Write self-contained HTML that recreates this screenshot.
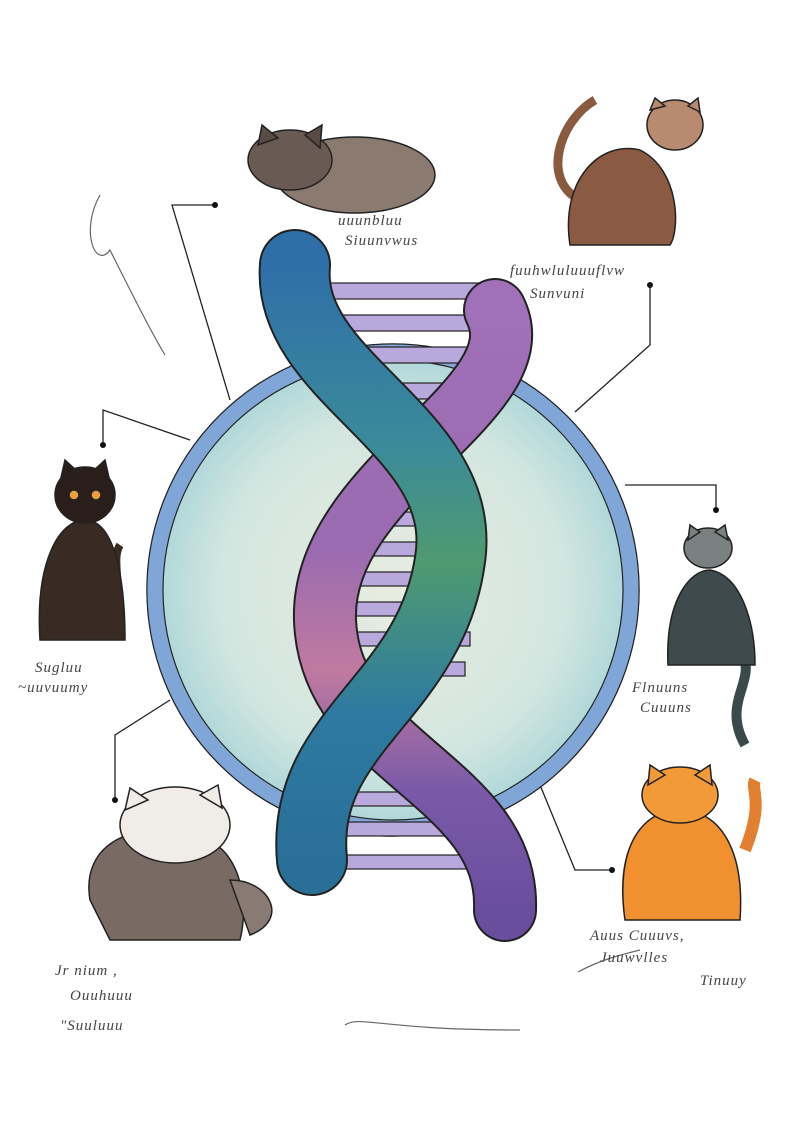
<!DOCTYPE html>
<html><head><meta charset="utf-8"><style>
html,body{margin:0;padding:0;background:#fff;}
svg{display:block}
.h{font-family:"Liberation Serif",serif;font-style:italic;fill:#444;font-size:15px;letter-spacing:1px}
</style></head><body>
<svg width="800" height="1131" viewBox="0 0 800 1131" xmlns="http://www.w3.org/2000/svg">
<defs>
<radialGradient id="cf" cx="50%" cy="50%" r="50%">
<stop offset="0" stop-color="#e8ece0"/><stop offset="0.7" stop-color="#d2e6e0"/><stop offset="1" stop-color="#a9d4d8"/>
</radialGradient>
<linearGradient id="bs" x1="0" y1="0" x2="0" y2="1">
<stop offset="0" stop-color="#2f6fa8"/><stop offset="0.3" stop-color="#3b8a9a"/><stop offset="0.5" stop-color="#4f9a70"/><stop offset="0.75" stop-color="#2e7aa0"/><stop offset="1" stop-color="#2a6f98"/>
</linearGradient>
<linearGradient id="ps" x1="0" y1="0" x2="0" y2="1">
<stop offset="0" stop-color="#a070b8"/><stop offset="0.4" stop-color="#9a6bb0"/><stop offset="0.6" stop-color="#c07aa0"/><stop offset="0.8" stop-color="#7a5aa8"/><stop offset="1" stop-color="#6a4e9e"/>
</linearGradient>
</defs>
<g stroke="#222" stroke-width="1.3" fill="none">
<polyline points="215,205 172,205 230,400"/>
<polyline points="650,285 650,345 575,412"/>
<polyline points="103,445 103,410 190,440"/>
<polyline points="716,510 716,485 625,485"/>
<polyline points="115,800 115,735 170,700"/>
<polyline points="612,870 575,870 540,785"/>
</g>
<g fill="#111"><circle cx="215" cy="205" r="3"/><circle cx="650" cy="285" r="3"/><circle cx="103" cy="445" r="3"/><circle cx="716" cy="510" r="3"/><circle cx="115" cy="800" r="3"/><circle cx="612" cy="870" r="3"/></g>
<circle cx="393" cy="590" r="246" fill="url(#cf)" stroke="#222" stroke-width="1.5"/>
<circle cx="393" cy="590" r="238" fill="none" stroke="#7fa6d6" stroke-width="15"/>
<circle cx="393" cy="590" r="230" fill="none" stroke="#222" stroke-width="1.2"/>
<g stroke="#222" stroke-width="1.2" fill="#b8a8dc">
<rect x="330" y="283" width="150" height="16"/><rect x="330" y="315" width="150" height="16"/>
<rect x="340" y="347" width="140" height="16"/><rect x="350" y="383" width="120" height="16"/>
<rect x="350" y="512" width="110" height="14"/><rect x="330" y="542" width="140" height="14"/>
<rect x="325" y="572" width="150" height="14"/><rect x="330" y="602" width="140" height="14"/>
<rect x="330" y="632" width="140" height="14"/><rect x="335" y="662" width="130" height="14"/>
<rect x="340" y="792" width="120" height="14"/><rect x="330" y="822" width="140" height="14"/>
<rect x="325" y="855" width="150" height="14"/>
</g>
<path d="M495,310 C540,400 320,480 325,620 C330,760 510,780 505,910" fill="none" stroke="#222" stroke-width="64" stroke-linecap="round"/>
<path d="M495,310 C540,400 320,480 325,620 C330,760 510,780 505,910" fill="none" stroke="url(#ps)" stroke-width="60" stroke-linecap="round"/>
<path d="M295,265 C285,380 470,430 450,560 C430,700 300,730 312,860" fill="none" stroke="#222" stroke-width="72" stroke-linecap="round"/>
<path d="M295,265 C285,380 470,430 450,560 C430,700 300,730 312,860" fill="none" stroke="url(#bs)" stroke-width="68" stroke-linecap="round"/>
<g stroke="#222" stroke-width="1.5">
<ellipse cx="355" cy="175" rx="80" ry="38" fill="#8a7a70"/>
<ellipse cx="290" cy="160" rx="42" ry="30" fill="#6a5a54"/>
<polygon points="258,145 262,125 278,138" fill="#5a4a44"/><polygon points="305,135 322,125 320,148" fill="#5a4a44"/>
</g>
<g stroke="#222" stroke-width="1.5">
<path d="M580,200 C540,180 560,120 595,100" fill="none" stroke="#8a5a40" stroke-width="9"/>
<path d="M570,245 C560,180 600,140 640,150 C680,170 680,230 670,245 Z" fill="#8a5a42"/>
<ellipse cx="675" cy="125" rx="28" ry="25" fill="#b88a70"/>
<polygon points="650,110 655,98 665,106" fill="#b88a70"/><polygon points="688,106 698,98 700,112" fill="#b88a70"/>
</g>
<g stroke="#222" stroke-width="1.5">
<path d="M112,620 C125,590 110,560 120,545" fill="none" stroke="#3a2a24" stroke-width="8"/>
<path d="M40,640 C35,560 60,520 85,520 C115,520 125,580 125,640 Z" fill="#3a2a24"/>
<ellipse cx="85" cy="495" rx="30" ry="28" fill="#2a1e1a"/>
<polygon points="60,482 65,460 78,472" fill="#2a1e1a"/><polygon points="92,472 105,460 110,482" fill="#2a1e1a"/>
<circle cx="74" cy="495" r="5" fill="#e8a040"/><circle cx="96" cy="495" r="5" fill="#e8a040"/>
</g>
<g stroke="#222" stroke-width="1.5">
<path d="M740,650 C760,680 720,700 745,745" fill="none" stroke="#3a4a4a" stroke-width="10"/>
<path d="M668,665 C665,600 690,570 710,570 C740,575 755,620 755,665 Z" fill="#3e4a4c"/>
<ellipse cx="708" cy="548" rx="24" ry="20" fill="#7a8080"/>
<polygon points="688,540 690,525 700,532" fill="#7a8080"/><polygon points="715,532 725,525 728,540" fill="#7a8080"/>
</g>
<g stroke="#222" stroke-width="1.5">
<path d="M90,900 C80,840 140,820 190,835 C240,840 250,900 240,940 L110,940 Z" fill="#7a6a64"/>
<path d="M230,880 C270,880 290,920 250,935 Z" fill="#8a7a74"/>
<ellipse cx="175" cy="825" rx="55" ry="38" fill="#f0ece8"/>
<polygon points="125,810 130,788 148,800" fill="#f0ece8"/><polygon points="200,795 218,785 222,808" fill="#f0ece8"/>
</g>
<g stroke="#222" stroke-width="1.5">
<path d="M745,850 C765,800 750,790 755,780" fill="none" stroke="#e08030" stroke-width="12"/>
<path d="M625,920 C615,850 640,810 680,810 C720,810 745,850 740,920 Z" fill="#f0902e"/>
<ellipse cx="680" cy="795" rx="38" ry="28" fill="#f29a38"/>
<polygon points="648,785 650,765 665,775" fill="#f29a38"/><polygon points="695,775 710,765 712,785" fill="#f29a38"/>
</g>
<g fill="none" stroke="#666" stroke-width="1.2">
<path d="M100,195 C80,230 95,270 110,250 C130,290 150,330 165,355"/>
<path d="M345,1025 C360,1015 380,1030 520,1030"/>
<path d="M578,972 C600,960 620,955 640,950"/>
</g>
<text class="h" x="338" y="225">uuunbluu</text>
<text class="h" x="345" y="245">Siuunvwus</text>
<text class="h" x="510" y="275" font-size="18">fuuhwluluuuflvw</text>
<text class="h" x="530" y="298">Sunvuni</text>
<text class="h" x="35" y="672">Sugluu</text>
<text class="h" x="18" y="692">~uuvuumy</text>
<text class="h" x="632" y="692">Flnuuns</text>
<text class="h" x="640" y="712">Cuuuns</text>
<text class="h" x="55" y="975">Jr nium ,</text>
<text class="h" x="70" y="1000">Ouuhuuu</text>
<text class="h" x="60" y="1030">"Suuluuu</text>
<text class="h" x="590" y="940">Auus Cuuuvs,</text>
<text class="h" x="600" y="962">Juuwvlles</text>
<text class="h" x="700" y="985">Tinuuy</text>
</svg>
</body></html>
